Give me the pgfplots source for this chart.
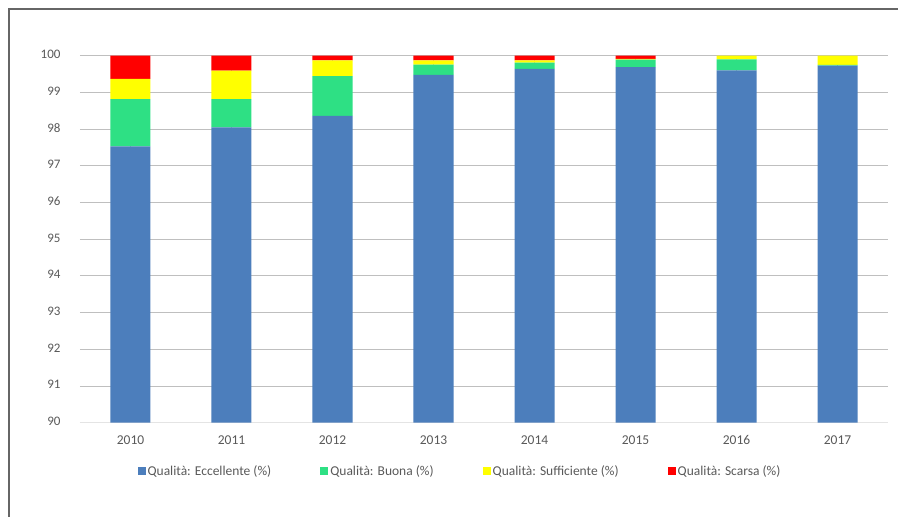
\documentclass[border=0pt]{standalone}
\usepackage{pgfplots}
\pgfplotsset{compat=1.18}
\usepackage{fontspec}
\setmainfont{Carlito}
\definecolor{cblue}{HTML}{4C7EBC}
\definecolor{cgreen}{HTML}{2EE084}
\definecolor{cyellow}{HTML}{FFFF00}
\definecolor{cred}{HTML}{FF0000}
\definecolor{txt}{HTML}{595959}
\definecolor{grid}{HTML}{E4E4E4}
\begin{document}
\begin{tikzpicture}[x=1pt,y=1pt]
\path[use as bounding box] (0,0) rectangle (898,517);
\draw[color=black!60, line width=1.5pt] (9,-2) -- (9,508) -- (900,508);
\begin{axis}[
  at={(80pt,94.3pt)}, anchor=south west,
  scale only axis, width=808pt, height=367pt,
  ybar stacked, bar width=40pt,
  xmin=-0.5, xmax=7.5, ymin=90, ymax=100,
  xtick={0,...,7}, xticklabels={2010,2011,2012,2013,2014,2015,2016,2017},
  ytick={90,...,100},
  ymajorgrids, grid style={grid, line width=0.9pt},
  axis x line*=bottom, axis y line*=left,
  x axis line style={grid, line width=0.9pt, -},
  y axis line style={draw=none},
  major tick length=0pt,
  tick label style={font=\fontsize{13.5}{15}\selectfont, text=txt},
  /pgf/number format/assume math mode=true,
  typeset ticklabels with strut,
  yticklabel style={xshift=-16pt, font=\fontsize{13}{15}\selectfont},
  xticklabel style={yshift=-8pt},
  legend style={at={(0.4703,-0.1316)}, anchor=center, draw=none, fill=none,
    legend columns=4, font=\fontsize{13.5}{15}\selectfont, text=txt,
    /tikz/every even column/.append style={column sep=47pt}},
  legend cell align=left,
  legend image code/.code={\fill[#1] (2pt,-4pt) rectangle (10pt,4pt);},
]
\addplot[fill=cblue, draw=none] coordinates {(0,97.53) (1,98.05) (2,98.36) (3,99.48) (4,99.64) (5,99.69) (6,99.60) (7,99.73)};
\addplot[fill=cgreen, draw=none] coordinates {(0,1.29) (1,0.77) (2,1.08) (3,0.28) (4,0.17) (5,0.20) (6,0.30) (7,0.02)};
\addplot[fill=cyellow, draw=none] coordinates {(0,0.55) (1,0.77) (2,0.43) (3,0.11) (4,0.06) (5,0.02) (6,0.10) (7,0.25)};
\addplot[fill=cred, draw=none] coordinates {(0,0.63) (1,0.41) (2,0.13) (3,0.13) (4,0.13) (5,0.09) (6,0.00) (7,0.00)};
\legend{Qualità: Eccellente (\%), Qualità: Buona (\%), Qualità: Sufficiente (\%), Qualità: Scarsa (\%)}
\end{axis}
\end{tikzpicture}
\end{document}
